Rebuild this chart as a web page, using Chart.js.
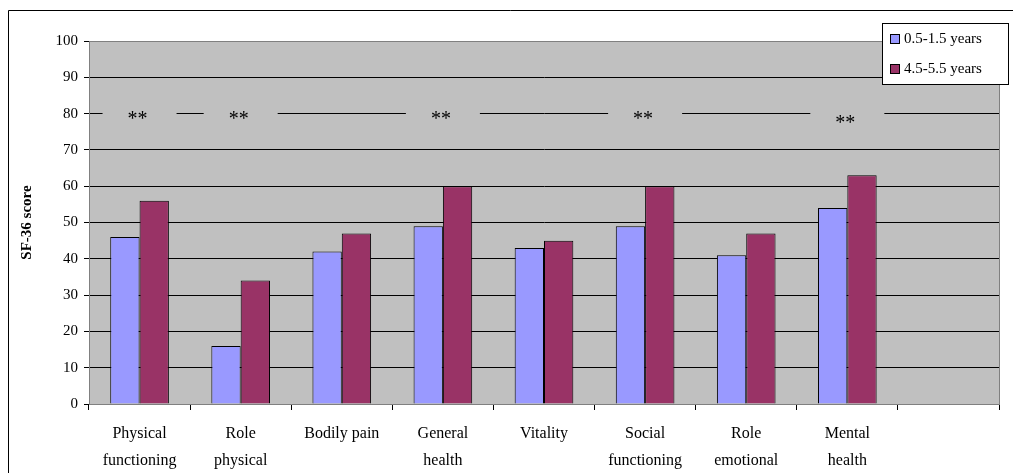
<!DOCTYPE html>
<html>
<head>
<meta charset="utf-8">
<script src="https://cdn.jsdelivr.net/npm/chart.js@4"></script>
<style>
  html, body { margin: 0; padding: 0; background: #fff; }
  #wrap { width: 1013px; height: 473px; position: relative; }
</style>
</head>
<body>
<div id="wrap"><canvas id="c"></canvas></div>
<script>
const categories = [['Physical', 'functioning'], ['Role', 'physical'], ['Bodily pain'], ['General', 'health'], ['Vitality'], ['Social', 'functioning'], ['Role', 'emotional'], ['Mental', 'health'], ''];
const youngScores = [46, 16, 42, 49, 43, 49, 41, 54, null];
const olderScores = [56, 34, 47, 60, 45, 60, 47, 63, null];
const stars = ['**', '**', '', '**', '', '**', '', '**', ''];
const starLevel = [79, 79, 79, 79, 79, 79, 79, 78, 79];
const seriesNames = ['0.5-1.5 years', '4.5-5.5 years'];
const seriesColors = ['#9999FF', '#993366'];

const decor = {
  id: 'decor',
  beforeDraw(chart) {
    const { ctx, chartArea: a } = chart;
    ctx.save();
    ctx.fillStyle = '#C0C0C0';
    ctx.fillRect(a.left, a.top, a.right - a.left, a.bottom - a.top);
    // outer frame
    ctx.strokeStyle = '#000';
    ctx.lineWidth = 1;
    ctx.beginPath();
    ctx.moveTo(8.5, 473); ctx.lineTo(8.5, 10.5); ctx.lineTo(1013, 10.5);
    ctx.stroke();
    ctx.restore();
  },
  beforeDatasetsDraw(chart) {
    const { ctx } = chart;
    const x = chart.scales.x, y = chart.scales.y;
    ctx.save();
    ctx.font = '20px "Liberation Serif"';
    ctx.textAlign = 'center';
    ctx.textBaseline = 'middle';
    stars.forEach((s, i) => {
      if (!s) return;
      const cx = x.getPixelForValue(i), cy = y.getPixelForValue(80);
      ctx.fillStyle = '#C0C0C0';
      ctx.fillRect(cx - 37, cy - 3, 74, 6);
      ctx.fillStyle = '#000';
      ctx.fillText(s, cx - 2, y.getPixelForValue(starLevel[i]) + 3);
    });
    ctx.restore();
  },
  afterDraw(chart) {
    const { ctx, chartArea: a } = chart;
    ctx.save();
    ctx.strokeStyle = '#808080';
    ctx.lineWidth = 1;
    ctx.strokeRect(a.left + 0.5, a.top + 0.5, a.right - a.left, a.bottom - a.top);
    // legend box
    const lx = 882, ly = 23, lw = 126, lh = 61;
    ctx.fillStyle = '#fff';
    ctx.fillRect(lx, ly, lw, lh);
    ctx.strokeStyle = '#000';
    ctx.strokeRect(lx + 0.5, ly + 0.5, lw, lh);
    ctx.font = '15px "Liberation Serif"';
    ctx.textBaseline = 'middle';
    ctx.textAlign = 'left';
    seriesNames.forEach((n, i) => {
      const yy = ly + 16 + i * 30;
      ctx.fillStyle = seriesColors[i];
      ctx.fillRect(lx + 8, yy - 5, 10, 10);
      ctx.strokeStyle = '#000';
      ctx.strokeRect(lx + 8.5, yy - 4.5, 9, 9);
      ctx.fillStyle = '#000';
      ctx.fillText(n, lx + 22, yy);
    });
    ctx.restore();
  }
};

new Chart(document.getElementById('c'), {
  type: 'bar',
  data: {
    labels: categories,
    datasets: [
      { label: seriesNames[0], data: youngScores, backgroundColor: seriesColors[0], borderColor: '#000', borderWidth: 1, categoryPercentage: 0.58, barPercentage: 1 },
      { label: seriesNames[1], data: olderScores, backgroundColor: seriesColors[1], borderColor: '#000', borderWidth: 1, categoryPercentage: 0.58, barPercentage: 1 }
    ]
  },
  options: {
    responsive: true, maintainAspectRatio: false, animation: false,
    layout: { padding: { left: 18, top: 41, right: 14, bottom: 0 } },
    plugins: { legend: { display: false }, tooltip: { enabled: false } },
    scales: {
      x: {
        offset: true,
        grid: { offset: true, drawOnChartArea: false, color: '#000', tickLength: 6 },
        border: { color: '#000' },
        ticks: { color: '#000', font: { family: 'Liberation Serif', size: 16, lineHeight: 1.7 }, padding: 10, maxRotation: 0, autoSkip: false },
        afterFit(s) { s.height = 69; }
      },
      y: {
        min: 0, max: 100,
        grid: { color: '#000', tickLength: 5 },
        border: { color: '#000' },
        ticks: { stepSize: 10, color: '#000', font: { family: 'Liberation Serif', size: 15 }, padding: 6 },
        title: { display: true, text: 'SF-36 score', color: '#000', padding: { top: 0, bottom: 0 }, font: { family: 'Liberation Serif', size: 15, weight: 'bold' } },
        afterFit(s) { s.width = 71; }
      }
    }
  },
  plugins: [decor]
});
</script>
</body>
</html>
